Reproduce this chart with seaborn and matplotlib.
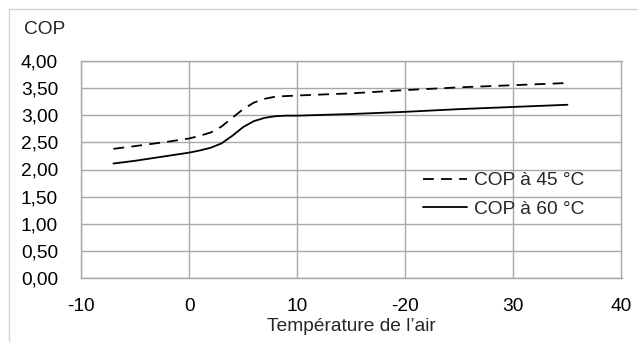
import matplotlib
matplotlib.use("Agg")
import matplotlib.pyplot as plt
import seaborn as sns
import pandas as pd
from matplotlib.lines import Line2D

temps = [-7, -5, -2, 0, 1, 2, 3, 4, 5, 6, 7, 8, 9, 10, 15, 20, 25, 30, 35]
cop45 = [2.38, 2.43, 2.51, 2.57, 2.62, 2.68, 2.79, 2.95, 3.11, 3.23, 3.30, 3.34, 3.35, 3.36, 3.40, 3.46, 3.51, 3.55, 3.59]
cop60 = [2.11, 2.16, 2.25, 2.31, 2.35, 2.40, 2.48, 2.62, 2.78, 2.89, 2.95, 2.98, 2.99, 2.99, 3.02, 3.06, 3.11, 3.15, 3.19]
series_names = ["COP à 45 °C", "COP à 60 °C"]
x_ticks = [-10, 0, 10, 20, 30, 40]
x_tick_labels = ["-10", "0", "10", "-20", "30", "40"]
y_ticks = [0, 0.5, 1.0, 1.5, 2.0, 2.5, 3.0, 3.5, 4.0]
y_tick_labels = ["0,00", "0,50", "1,00", "1,50", "2,00", "2,50", "3,00", "3,50", "4,00"]

df = pd.DataFrame({
    "T": temps * 2,
    "COP": cop45 + cop60,
    "serie": [series_names[0]] * len(temps) + [series_names[1]] * len(temps),
})

sns.set_style("white")
plt.rcParams["font.family"] = ["Liberation Sans", "DejaVu Sans"]
FS = 13.8

W, H = 638, 342
fig = plt.figure(figsize=(W / 100, H / 100), dpi=100)
ax = fig.add_axes([81 / W, 1 - 278.3 / H, (621.5 - 81) / W, (278.3 - 60.7) / H])

# outer chart border (left and top visible)
fig.add_artist(Line2D([8.5 / W, 8.5 / W], [0, 1 - 8.5 / H], transform=fig.transFigure, color="#d4d4d4", lw=1))
fig.add_artist(Line2D([8.5 / W, 1], [1 - 8.5 / H, 1 - 8.5 / H], transform=fig.transFigure, color="#d4d4d4", lw=1))

sns.lineplot(data=df, x="T", y="COP", hue="serie", style="serie",
             palette=["black", "black"], dashes=[(6, 4), ""], lw=1.3, ax=ax, legend=False)

ax.set_xlim(-10, 40)
ax.set_ylim(0, 4)
ax.set_xticks(x_ticks)
ax.set_xticklabels(x_tick_labels)
ax.set_yticks(y_ticks)
ax.set_yticklabels(y_tick_labels)
ax.grid(True, color="#a8a8a8", lw=1)
ax.set_axisbelow(True)
for s in ax.spines.values():
    s.set_color("#a8a8a8")
    s.set_linewidth(1)
ax.tick_params(axis="both", length=0, labelsize=FS, colors="black")
ax.tick_params(axis="y", pad=16.5)
ax.tick_params(axis="x", pad=14.5)
ax.set_xlabel("Température de l’air", fontsize=FS, labelpad=2)
ax.set_ylabel("")
fig.text(24 / W, 1 - 30 / H, "COP", fontsize=FS, ha="left", va="center")

handles = [Line2D([], [], color="black", lw=1.3, dashes=(6, 4)),
           Line2D([], [], color="black", lw=1.3)]
leg = ax.legend(handles, series_names, loc="center left",
                bbox_to_anchor=((423 - 81) / (621.5 - 81), (278.3 - 195) / (278.3 - 60.7)),
                frameon=False, fontsize=FS, handlelength=2.3, handletextpad=0.36,
                labelspacing=0.6, borderaxespad=0, borderpad=0)

fig.savefig("out.png", dpi=100)
